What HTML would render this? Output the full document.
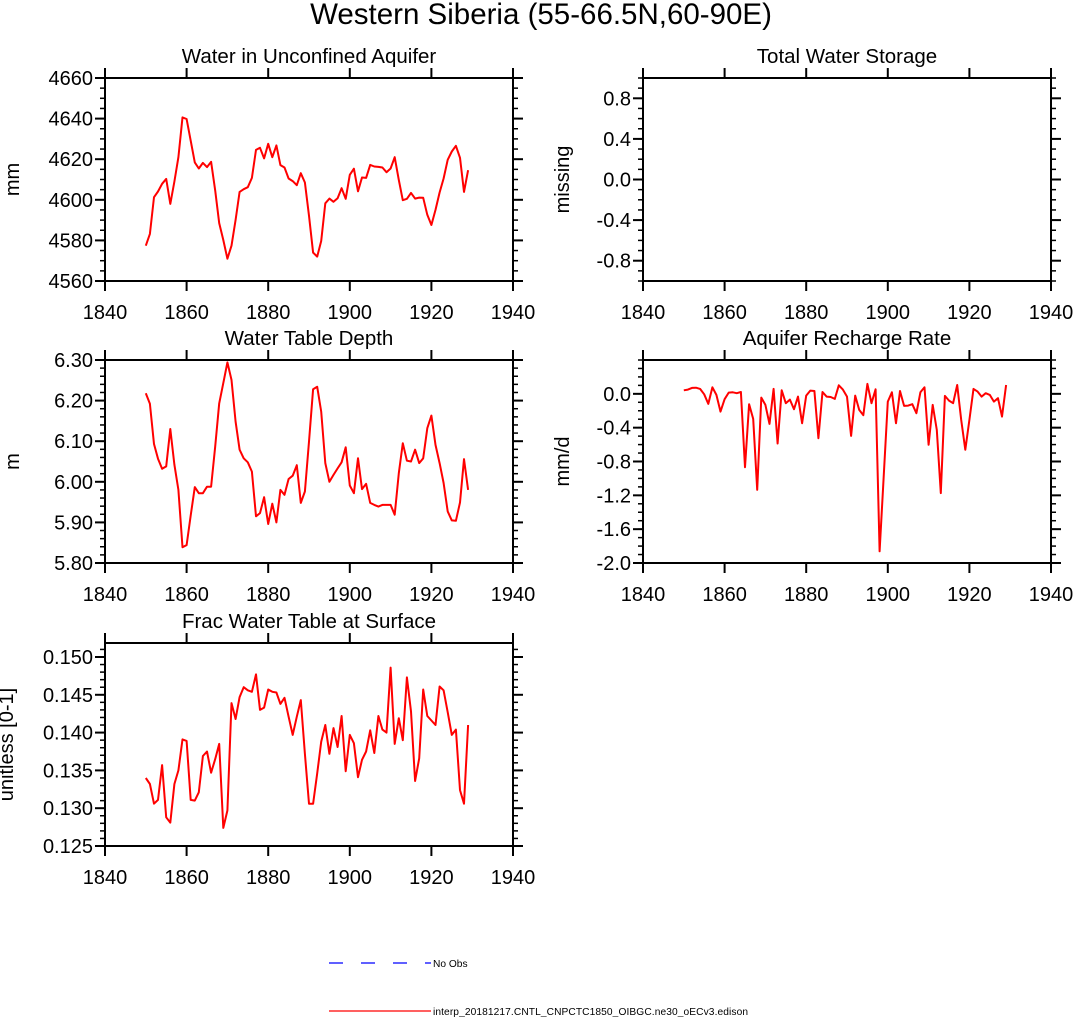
<!DOCTYPE html>
<html><head><meta charset="utf-8"><style>
html,body{margin:0;padding:0;background:#fff;}
svg text{font-family:"Liberation Sans",Arial,sans-serif;fill:#000;}
</style></head><body>
<svg id="fig" width="1075" height="1017" viewBox="0 0 1075 1017" xmlns="http://www.w3.org/2000/svg">
<text x="541" y="24" font-size="29.5" text-anchor="middle">Western Siberia (55-66.5N,60-90E)</text>
<g id="panels"></g>
<g>
<line x1="329" y1="963" x2="431" y2="963" stroke="#0000ff" stroke-width="1.2" stroke-dasharray="14,18"/>
<text x="433" y="967" font-size="10.2">No Obs</text>
<line x1="329" y1="1011" x2="431" y2="1011" stroke="#ff0000" stroke-width="1.2"/>
<text x="433" y="1015" font-size="10.2" textLength="315">interp_20181217.CNTL_CNPCTC1850_OIBGC.ne30_oECv3.edison</text>
</g>
</svg>
<script>
const years = []; for (let y = 1850; y <= 1929; y++) years.push(y);
const xTicks = [1840,1860,1880,1900,1920,1940];
const aquiferValues = [4577.4,4583.2,4601.3,4604.1,4607.9,4610.3,4598.0,4609.0,4621.0,4640.6,4639.8,4629.1,4618.4,4615.4,4618.2,4616.1,4618.7,4604.6,4588.5,4580.2,4571.0,4577.4,4590.1,4603.9,4605.2,4606.2,4610.8,4624.6,4625.6,4620.4,4627.6,4621.0,4626.8,4617.1,4615.9,4610.5,4609.2,4607.2,4613.1,4608.5,4592.1,4574.0,4572.0,4579.7,4598.3,4600.6,4599.0,4600.8,4605.7,4600.5,4612.3,4615.3,4604.2,4611.0,4610.8,4617.2,4616.4,4616.2,4615.9,4613.6,4615.4,4621.0,4609.8,4599.8,4600.5,4603.4,4600.6,4601.1,4601.0,4592.6,4587.6,4595.0,4603.6,4610.5,4619.7,4623.8,4626.6,4620.7,4603.9,4614.6];
const aquiferTicks = ["4560","4580","4600","4620","4640","4660"];
const wtdValues = [6.218,6.192,6.093,6.057,6.032,6.038,6.130,6.042,5.980,5.839,5.844,5.917,5.987,5.972,5.972,5.988,5.988,6.087,6.193,6.243,6.294,6.251,6.148,6.079,6.058,6.048,6.025,5.915,5.923,5.962,5.896,5.946,5.900,5.980,5.968,6.007,6.015,6.041,5.948,5.976,6.099,6.228,6.234,6.173,6.046,6.000,6.017,6.033,6.048,6.085,5.991,5.972,6.058,5.982,5.995,5.948,5.943,5.939,5.943,5.943,5.943,5.919,6.021,6.095,6.052,6.050,6.079,6.046,6.058,6.132,6.163,6.091,6.046,5.997,5.927,5.905,5.904,5.949,6.056,5.980];
const wtdTicks = ["5.80","5.90","6.00","6.10","6.20","6.30"];
const rechargeValues = [0.042,0.050,0.070,0.073,0.058,-0.005,-0.119,0.077,-0.013,-0.210,-0.064,0.014,0.018,0.007,0.022,-0.867,-0.123,-0.296,-1.134,-0.045,-0.131,-0.355,0.058,-0.587,0.042,-0.111,-0.068,-0.182,-0.033,-0.347,-0.021,0.038,0.034,-0.524,0.022,-0.033,-0.037,-0.060,0.101,0.050,-0.033,-0.497,-0.021,-0.190,-0.253,0.117,-0.111,0.054,-1.862,-0.977,-0.092,0.018,-0.347,0.034,-0.143,-0.139,-0.123,-0.229,0.018,0.077,-0.603,-0.131,-0.426,-1.174,-0.025,-0.080,-0.111,0.105,-0.308,-0.662,-0.308,0.058,0.026,-0.033,0.007,-0.013,-0.092,-0.052,-0.269,0.105];
const rechargeTicks = ["-2.0","-1.6","-1.2","-0.8","-0.4","0.0"];
const fracValues = [0.1340,0.1332,0.1306,0.1311,0.1357,0.1288,0.1281,0.1332,0.1350,0.1391,0.1389,0.1311,0.1310,0.1321,0.1369,0.1375,0.1347,0.1365,0.1385,0.1274,0.1297,0.1439,0.1418,0.1447,0.1460,0.1456,0.1454,0.1477,0.1430,0.1433,0.1457,0.1454,0.1453,0.1438,0.1446,0.1421,0.1397,0.1421,0.1443,0.1372,0.1306,0.1306,0.1346,0.1388,0.1410,0.1372,0.1406,0.1381,0.1422,0.1349,0.1397,0.1386,0.1341,0.1364,0.1375,0.1403,0.1373,0.1422,0.1404,0.1400,0.1486,0.1385,0.1419,0.1390,0.1473,0.1428,0.1336,0.1366,0.1457,0.1422,0.1416,0.1410,0.1461,0.1456,0.1427,0.1397,0.1404,0.1324,0.1306,0.1410];
const fracTicks = ["0.125","0.130","0.135","0.140","0.145","0.150"];
const tswTicks = ["-0.8","-0.4","0.0","0.4","0.8"];

const NS = "http://www.w3.org/2000/svg";
const root = document.getElementById('panels');
function mk(tag, attrs, parent){ const e=document.createElementNS(NS,tag); for(const k in attrs) e.setAttribute(k,attrs[k]); parent.appendChild(e); return e; }

function panel(opt){
  const g = mk('g',{},root);
  
  
  const L=opt.x, T=opt.y, W=408, H=203;
  const xs = v => L + (v-1840)/100*W;
  const ys = v => T + H - (v-opt.ymin)/(opt.ymax-opt.ymin)*H;
  const t = mk('text',{x:L+W/2,y:T-15,'font-size':20.5,'text-anchor':'middle'},g);
  t.textContent = opt.title;
  
  
  const yt = mk('text',{x:0,y:0,'font-size':20,'text-anchor':'middle',transform:`translate(${L-opt.yoff},${T+H/2}) rotate(-90)`},g);
  yt.textContent = opt.ylabel;
  
  
  for (let v=opt.ymin; v<=opt.ymax+1e-9; v+=opt.minor){
    const y=ys(v); if (y<T-0.5||y>T+H+0.5) continue;
    mk('line',{x1:L-5,y1:y,x2:L,y2:y,stroke:'#000','stroke-width':1.5},g);
    mk('line',{x1:L+W,y1:y,x2:L+W+5,y2:y,stroke:'#000','stroke-width':1.5},g);
  }
  opt.ticks.forEach(s=>{
    const y=ys(parseFloat(s));
    mk('line',{x1:L-10,y1:y,x2:L,y2:y,stroke:'#000','stroke-width':2},g);
    mk('line',{x1:L+W,y1:y,x2:L+W+10,y2:y,stroke:'#000','stroke-width':2},g);
    const tx=mk('text',{x:L-12,y:y+7,'font-size':20,'text-anchor':'end'},g);
    tx.textContent=s;
    
    
  });
  xTicks.forEach(v=>{
    const x=xs(v);
    mk('line',{x1:x,y1:T-10,x2:x,y2:T,stroke:'#000','stroke-width':2},g);
    mk('line',{x1:x,y1:T+H,x2:x,y2:T+H+10,stroke:'#000','stroke-width':2},g);
    const tx=mk('text',{x:x,y:T+H+38,'font-size':20,'text-anchor':'middle'},g);
    tx.textContent=String(v);
    
    
  });
  const b = mk('rect',{x:L,y:T,width:W,height:H,fill:'none',stroke:'#000','stroke-width':2},g);
  
  
  if (opt.values){
    const pts = opt.values.map((v,i)=>xs(years[i]).toFixed(1)+','+ys(v).toFixed(1)).join(' ');
    const p = mk('polyline',{points:pts,fill:'none',stroke:'#ff0000','stroke-width':2,'stroke-linejoin':'round'},g);
    
    
  }
}
panel({name:'panel-unconfined-aquifer',x:105,y:78,yoff:86,title:'Water in Unconfined Aquifer',ylabel:'mm',ymin:4560,ymax:4660,minor:5,ticks:aquiferTicks,values:aquiferValues});
panel({name:'panel-total-water-storage',x:643,y:78,yoff:74,title:'Total Water Storage',ylabel:'missing',ymin:-1,ymax:1,minor:0.1,ticks:tswTicks,values:null});
panel({name:'panel-water-table-depth',x:105,y:360,yoff:86,title:'Water Table Depth',ylabel:'m',ymin:5.8,ymax:6.3,minor:0.02,ticks:wtdTicks,values:wtdValues});
panel({name:'panel-aquifer-recharge',x:643,y:360,yoff:74,title:'Aquifer Recharge Rate',ylabel:'mm/d',ymin:-2.0,ymax:0.4,minor:0.1,ticks:rechargeTicks,values:rechargeValues});
panel({name:'panel-frac-water-table',x:105,y:643,yoff:92,title:'Frac Water Table at Surface',ylabel:'unitless [0-1]',ymin:0.125,ymax:0.15185,minor:0.001,ticks:fracTicks,values:fracValues});
</script>
</body></html>
